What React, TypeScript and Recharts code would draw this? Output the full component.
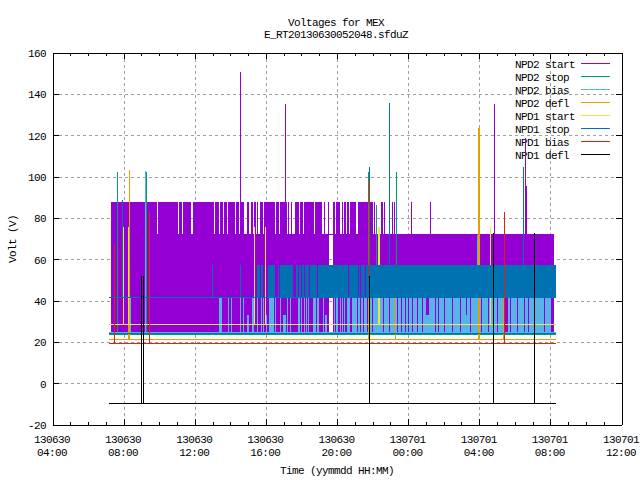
import React from "react";
import { ComposedChart, Area, Line, XAxis, YAxis, CartesianGrid } from "recharts";

// time in hours since 130630 00:00, voltage in V
const seriesNames = ["NPD2 start", "NPD2 stop", "NPD2 bias", "NPD2 defl", "NPD1 start", "NPD1 stop", "NPD1 bias", "NPD1 defl"];
const seriesColors = ["#9400d3", "#009e73", "#56b4e9", "#e69f00", "#f0e442", "#0072b2", "#e51e10", "#000000"];
const yTicks = [-20, 0, 20, 40, 60, 80, 100, 120, 140, 160];
const majorHours = [4, 8, 12, 16, 20, 24, 28, 32, 36];
const hourTicks = [4,5,6,7,8,9,10,11,12,13,14,15,16,17,18,19,20,21,22,23,24,25,26,27,28,29,30,31,32,33,34,35,36];
const xLabels: Record<number, [string, string]> = {
  4: ["130630", "04:00"], 8: ["130630", "08:00"], 12: ["130630", "12:00"], 16: ["130630", "16:00"], 20: ["130630", "20:00"],
  24: ["130701", "00:00"], 28: ["130701", "04:00"], 32: ["130701", "08:00"], 36: ["130701", "12:00"],
};
const tStart = 7.15;
const tEnd = 32.294;

// [from, to] blocks of the densely sampled signals
const start2LowBlocks = [[7.2625, 19.525], [19.75, 32.181]];
const start2HighBlocks = [
  [7.2625,9.85],[9.906,11.031],[11.088,11.256],[11.313,11.763],[11.875,13.056],[13.113,13.338],[13.394,13.563],[13.619,13.788],
  [13.844,14.238],[14.294,14.463],[14.519,14.744],[14.913,15.025],[15.138,15.25],[15.306,15.419],[15.475,15.531],[15.644,15.813],
  [15.869,16.488],[16.544,16.713],[16.769,17.163],[17.219,17.275],[17.388,17.444],[17.613,17.838],[17.894,18.063],[18.119,18.681],
  [18.738,19.131],[19.244,19.3],[19.469,19.525],[19.75,19.863],[19.919,20.144],[20.256,20.313],[20.369,20.481],[20.538,20.65],
  [20.706,21.044],[21.156,22],[22.056,22.113],[22.45,22.563],[22.619,22.675],[23.069,23.125],[23.181,23.238],[24.138,24.194],[25.206,25.263],
];
const stop1Blocks = [
  [12.944,13],[14.519,14.575],[15.475,15.644],[15.7,15.813],[16.094,16.488],[16.656,16.713],[16.769,17.5],[17.669,17.781],[17.838,17.95],
  [18.006,18.119],[18.175,18.4],[18.456,18.85],[18.906,20.594],[20.65,21.156],[21.213,21.269],[21.325,21.55],[21.606,32.294],
];
const bias2Blocks = [
  [8.331,8.388],[13.338,13.506],[13.844,13.9],[14.013,14.069],[14.519,14.575],[14.688,14.744],[15.194,15.306],[15.475,15.531],
  [15.7,15.756],[15.813,15.869],[16.15,16.431],[16.488,16.544],[16.769,16.825],[17.163,17.219],[17.331,17.388],[17.781,17.894],
  [17.95,18.006],[18.119,18.175],[18.231,18.288],[18.344,18.4],[18.625,18.794],[18.85,18.963],[19.188,19.244],[19.806,19.863],
  [19.919,20.031],[20.144,20.2],[20.256,20.313],[20.369,20.425],[20.538,20.706],[20.819,21.1],[21.156,21.269],[21.325,21.438],
  [21.494,21.663],[21.831,21.944],[22,22.563],[22.619,22.9],[22.956,23.35],[23.406,23.575],[23.631,23.8],[23.856,23.969],[24.025,24.194],
  [24.25,24.475],[24.531,24.756],[24.813,24.981],[25.15,25.488],[25.544,25.656],[25.713,25.994],[26.05,26.444],[26.5,26.894],[26.95,27.231],
  [27.288,27.456],[27.513,28.075],[28.131,28.469],[28.525,28.975],[29.031,29.425],[29.594,29.706],[29.763,30.1],[30.156,30.494],
  [30.55,30.719],[30.775,31.619],[31.675,32.013],
];
const bias2ShortBlocks = [[14.913,15.025],[15.981,16.038],[16.938,17.106],[19.3,19.413],[27.2,27.3],[28.3,28.36],[25,25.15]];

// [time, peak] of the isolated excursions
const start2Spikes = [[14.547,150.8],[17.05,135.3],[28.806,135.3],[30.55,119],[30.606,95.6]];
const stop2Spikes = [[7.6,102.4],[9.26,102.4],[21.747,102.4],[22.169,86.6],[23.294,102.4]];
const bias2Spikes = [[9.203,103],[27.85,72]];
const defl2Spikes = [[8.219,29],[8.275,103.4],[21.719,42],[23.238,42],[27.906,123.7],[27.963,123.7],[29.313,42]];
const start1Spikes = [[7.966,75.8],[8.219,75.8],[15.306,75.8],[15.925,75.8],[22.281,75.8],[22.338,75.8],[28.581,75.8]];
const stop1Spikes = [[7.909,88.9],[21.803,104.8],[22.928,136],[30.466,104.8]];
const bias1Spikes = [[7.431,67],[9.4,83],[21.803,98.6],[29.369,83]];
const defl1Spikes = [[8.967,52],[9.079,52],[21.803,52],[28.769,73],[31.084,73]];

// resting levels
const start2Base = 72;
const stop2Base = 23.8;
const bias2Base = 24.76;
const defl2Base = 21.36;
const start1Base = 28.6;
const stop1Base = 41.7;
const stop1Floor = 24.3;
const bias1Base = 19.44;
const defl1Base = -9.6;

function spikeLine(base: number, spikes: number[][], from = tStart, to = tEnd) {
  const pts: { t: number; v: number }[] = [{ t: from, v: base }];
  spikes.forEach(([t, peak]) => {
    pts.push({ t, v: base }, { t, v: peak }, { t, v: base });
  });
  pts.push({ t: to, v: base });
  return pts;
}

function blockArea(blocks: number[][], lo: number, hi: number) {
  const pts: { t: number; r: [number, number] }[] = [];
  blocks.forEach(([a, b]) => {
    pts.push({ t: a, r: [lo, lo] }, { t: a, r: [lo, hi] }, { t: b, r: [lo, hi] }, { t: b, r: [lo, lo] });
  });
  return pts;
}

const FONT = "'Liberation Mono', monospace";
const FS = 11;
const LS = -0.6;
const txt = { fontFamily: FONT, fontSize: FS, letterSpacing: LS, fill: "#000" } as const;

const BottomTick = (p: any) => {
  const h = p.payload.value;
  const major = majorHours.includes(h);
  const l = xLabels[h];
  return (
    <g>
      <line x1={p.x} x2={p.x} y1={p.y} y2={p.y - (major ? 6 : 3)} stroke="#000" shapeRendering="crispEdges" />
      {l && <text x={p.x - 1} y={p.y + 18} textAnchor="middle" {...txt}>{l[0]}</text>}
      {l && <text x={p.x - 1} y={p.y + 31} textAnchor="middle" {...txt}>{l[1]}</text>}
    </g>
  );
};
const TopTick = (p: any) => {
  const major = majorHours.includes(p.payload.value);
  return <line x1={p.x} x2={p.x} y1={p.y} y2={p.y + (major ? 6 : 3)} stroke="#000" shapeRendering="crispEdges" />;
};
const LeftTick = (p: any) => (
  <g>
    <line x1={p.x} x2={p.x + 6} y1={p.y} y2={p.y} stroke="#000" shapeRendering="crispEdges" />
    <text x={p.x - 7} y={p.y + 4} textAnchor="end" {...txt}>{p.payload.value}</text>
  </g>
);
const RightTick = (p: any) => <line x1={p.x} x2={p.x - 6} y1={p.y} y2={p.y} stroke="#000" shapeRendering="crispEdges" />;

const Series = [
  { k: 0, base: start2Base, spikes: start2Spikes, from: 7.2625, to: 32.181, z: 101 },
  { k: 1, base: stop2Base, spikes: stop2Spikes, z: 102 },
  { k: 2, base: bias2Base, spikes: bias2Spikes, z: 104 },
  { k: 3, base: defl2Base, spikes: defl2Spikes, z: 105 },
  { k: 4, base: start1Base, spikes: start1Spikes, z: 106 },
  { k: 5, base: stop1Base, spikes: stop1Spikes, z: 108 },
  { k: 5, base: stop1Floor, spikes: [] as number[][], z: 108 },
  { k: 6, base: bias1Base, spikes: bias1Spikes, z: 109 },
  { k: 7, base: defl1Base, spikes: defl1Spikes, z: 110 },
];

export default function App() {
  return (
    <div style={{ position: "absolute", left: 0, top: 0, width: 640, height: 480, background: "#fff" }}>
      <style>{`.recharts-curve{shape-rendering:crispEdges}`}</style>
      <ComposedChart width={640} height={480} margin={{ top: 0, right: 0, bottom: 0, left: 0 }}>
        <CartesianGrid
          stroke="#a0a0a0"
          strokeDasharray="3 3"
          horizontalValues={yTicks.slice(1, -1)}
          verticalValues={majorHours.slice(1, -1)}
          shapeRendering="crispEdges"
        />
        <XAxis dataKey="t" type="number" domain={[4, 36]} ticks={hourTicks} interval={0} height={55} tickSize={0} tickMargin={0}
          tickLine={false} tick={BottomTick} stroke="#000" shapeRendering="crispEdges" allowDataOverflow />
        <XAxis xAxisId="top" orientation="top" dataKey="t" type="number" domain={[4, 36]} ticks={hourTicks} interval={0} height={53} tickSize={0} tickMargin={0}
          tickLine={false} tick={TopTick} stroke="#000" shapeRendering="crispEdges" allowDataOverflow />
        <YAxis type="number" domain={[-20, 160]} ticks={yTicks} interval={0} width={53} tickSize={0} tickMargin={0}
          tickLine={false} tick={LeftTick} stroke="#000" shapeRendering="crispEdges" allowDataOverflow />
        <YAxis yAxisId="right" orientation="right" type="number" domain={[-20, 160]} ticks={yTicks} interval={0} width={18} tickSize={0} tickMargin={0}
          tickLine={false} tick={RightTick} stroke="#000" shapeRendering="crispEdges" allowDataOverflow />

        <Area data={blockArea(start2LowBlocks, 25, 72)} dataKey="r" type="linear" fill={seriesColors[0]} fillOpacity={1} stroke="none" dot={false} activeDot={false} isAnimationActive={false} zIndex={98} shapeRendering="crispEdges" />
        <Area data={blockArea(start2HighBlocks, 71.5, 88)} dataKey="r" type="linear" fill={seriesColors[0]} fillOpacity={1} stroke="none" dot={false} activeDot={false} isAnimationActive={false} zIndex={99} shapeRendering="crispEdges" />
        <Area data={blockArea(bias2Blocks, 25, 41.4)} dataKey="r" type="linear" fill={seriesColors[2]} fillOpacity={1} stroke="none" dot={false} activeDot={false} isAnimationActive={false} zIndex={103} shapeRendering="crispEdges" />
        <Area data={blockArea(bias2ShortBlocks, 25, 33)} dataKey="r" type="linear" fill={seriesColors[2]} fillOpacity={1} stroke="none" dot={false} activeDot={false} isAnimationActive={false} zIndex={103} shapeRendering="crispEdges" />
        <Area data={blockArea(stop1Blocks, 41.6, 57.6)} dataKey="r" type="linear" fill={seriesColors[5]} fillOpacity={1} stroke="none" dot={false} activeDot={false} isAnimationActive={false} zIndex={107} shapeRendering="crispEdges" />

        {Series.map((s, i) => (
          <Line
            key={i}
            data={spikeLine(s.base, s.spikes, s.from, s.to)}
            dataKey="v"
            type="linear"
            name={seriesNames[s.k]}
            stroke={seriesColors[s.k]}
            strokeWidth={1}
            dot={false}
            activeDot={false}
            legendType="none"
            isAnimationActive={false}
            zIndex={s.z}
          />
        ))}

        <text x={336} y={26} textAnchor="middle" {...txt}>Voltages for MEX</text>
        <text x={336} y={38} textAnchor="middle" {...txt}>E_RT20130630052048.sfduZ</text>
        <text x={337} y={474} textAnchor="middle" {...txt}>Time (yymmdd HH:MM)</text>
        <text transform="translate(16,239) rotate(-90)" textAnchor="middle" {...txt}>Volt (V)</text>
        {seriesNames.map((n, i) => {
          const y = 62.6 + i * 13.1;
          return (
            <g key={n}>
              <text x={515} y={y + 5} {...txt}>{n}</text>
              <line x1={581} x2={610} y1={Math.round(y) + 0.5} y2={Math.round(y) + 0.5} stroke={seriesColors[i]} shapeRendering="crispEdges" />
            </g>
          );
        })}
      </ComposedChart>
    </div>
  );
}
